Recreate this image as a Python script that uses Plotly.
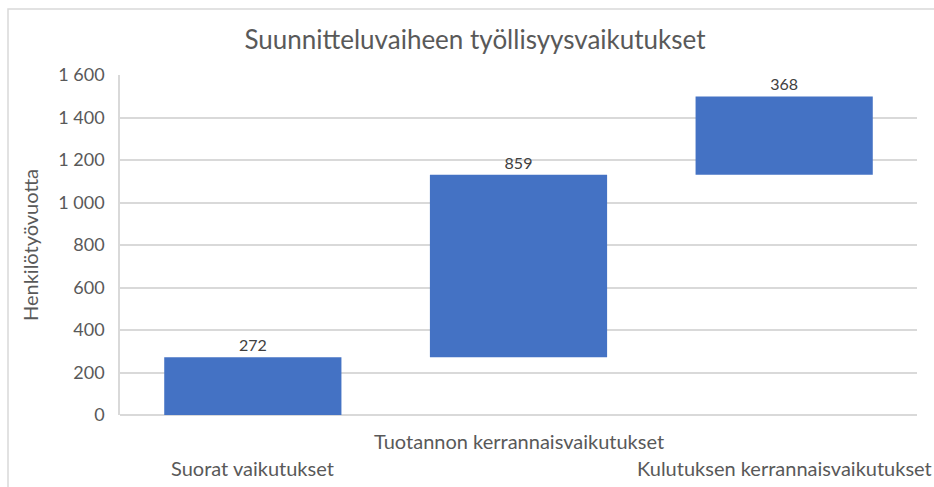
import numpy as np
import plotly.graph_objects as go

categories = ["Suorat vaikutukset", "Tuotannon kerrannaisvaikutukset", "Kulutuksen kerrannaisvaikutukset"]
values = [272, 859, 368]
y_ticks = [0, 200, 400, 600, 800, 1000, 1200, 1400, 1600]

title_text = "Suunnitteluvaiheen työllisyysvaikutukset"
y_title = "Henkilötyövuotta"

bases = list(np.concatenate([[0], np.cumsum(values)[:-1]]))

FONT = "Lato, Calibri, 'Open Sans', sans-serif"
GRID = "#d9d9d9"
TXT = "#595959"

fig = go.Figure()
fig.add_trace(go.Bar(
    x=categories, y=values, base=bases,
    width=0.667,
    marker=dict(color="#4472C4", line=dict(width=0)),
    text=[str(v) for v in values],
    textposition="outside",
    textfont=dict(size=16, color="#404040", family=FONT),
    cliponaxis=False,
    hoverinfo="skip",
))

W, H = 934, 487
L, R, T, B = 120, 17, 75, 72
pw, ph = W - L - R, H - T - B

# category labels staggered (Excel style)
label_y_px = [468, 441, 468]
for cat, ypx in zip(categories, label_y_px):
    fig.add_annotation(
        x=cat, xref="x", y=(H - B - ypx) / ph, yref="paper",
        text=cat, showarrow=False, xanchor="center", yanchor="middle",
        font=dict(size=20, color=TXT, family=FONT),
    )

# outer chart frame
fig.add_shape(
    type="rect", xref="paper", yref="paper",
    x0=(8 - L) / pw, x1=(945 - L) / pw,
    y0=(H - B - 500) / ph, y1=(H - B - 9) / ph,
    line=dict(color="#d9d9d9", width=1.5), fillcolor="rgba(0,0,0,0)", layer="below",
)

fig.update_layout(
    width=W, height=H,
    margin=dict(l=L, r=R, t=T, b=B, autoexpand=False),
    paper_bgcolor="white", plot_bgcolor="white",
    separators=", ",
    showlegend=False,
    title=dict(text=title_text, x=475 / W, xanchor="center", y=1 - 40 / H, yanchor="middle",
               font=dict(size=26, color=TXT, family=FONT)),
    font=dict(family=FONT, color=TXT),
    bargap=0.333,
)
fig.update_xaxes(showticklabels=False, showgrid=False, zeroline=False, showline=False,
                 range=[-0.5, 2.5])
fig.update_yaxes(
    range=[0, 1600], tickvals=y_ticks, tickformat=",d",
    showgrid=True, gridcolor=GRID, gridwidth=1.5,
    zeroline=True, zerolinecolor=GRID, zerolinewidth=1.5,
    showline=True, linecolor=GRID, linewidth=1.5,
    ticks="outside", ticklen=10, tickcolor="rgba(0,0,0,0)",
    tickfont=dict(size=18, color=TXT, family=FONT),
    title=dict(text=y_title, font=dict(size=20, color=TXT, family=FONT), standoff=14),
    automargin=False,
)

fig.write_html("out.html", config={"displayModeBar": False},
               post_script="document.body.style.margin='0';")
